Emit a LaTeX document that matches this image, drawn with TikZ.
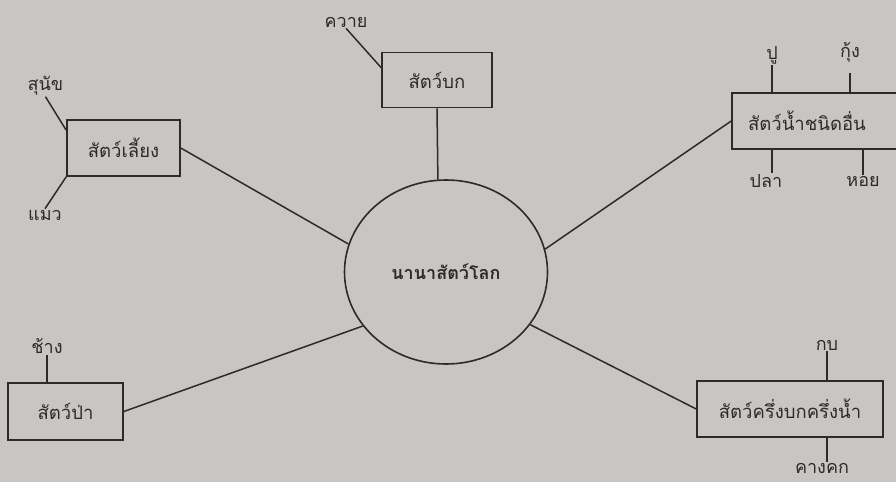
\documentclass[tikz,border=0pt]{standalone}
\usepackage{fontspec}
\newfontfamily\thaifont[Script=Thai]{Loma}
\usepackage{xcolor}
\usepackage{tikz}
\usetikzlibrary{calc,positioning,shapes.geometric}
\definecolor{paper}{RGB}{200,198,195}
\definecolor{ink}{RGB}{45,43,41}

\begin{document}
\begin{tikzpicture}[x=1pt,y=-1pt,
    every node/.style={font=\thaifont\fontsize{18.5}{21}\selectfont,text=ink},
    groupbox/.style={draw=ink,line width=1.6pt,rectangle,inner sep=0pt,minimum height=56pt},
    leaf/.style={inner sep=1pt,font=\thaifont\fontsize{18}{21}\selectfont},
    link/.style={draw=ink,line width=1.5pt}]
  \fill[paper] (0,0) rectangle (896,482);
  \useasboundingbox (0,0) rectangle (896,482);
  \clip (0,0) rectangle (896,482);
  % centre
  \node[draw=ink,line width=1.6pt,ellipse,minimum width=203pt,minimum height=184pt,inner sep=0pt,
    font=\thaifont\bfseries\fontsize{18}{21}\selectfont] (world) at (446,272) {นานาสัตว์โลก};
  % groups
  \node[groupbox,minimum width=113pt] (pet) at (123.5,148) {สัตว์เลี้ยง};
  \node[groupbox,minimum width=110pt,minimum height=55pt] (land) at (437,80) {สัตว์บก};
  \node[groupbox,minimum width=178pt] (water) at (821,121) {สัตว์น้ำชนิดอื่น\kern28pt};
  \node[groupbox,minimum width=115pt,minimum height=57pt] (wild) at (65.5,411.5) {สัตว์ป่า};
  \node[groupbox,minimum width=186pt] (amphib) at (790,409) {สัตว์ครึ่งบกครึ่งน้ำ};
  \foreach \grp/\ang in {pet.east/164,land.south/95,water.west/13,wild.east/213,amphib.west/328}
    \draw[link] (\grp) -- (world.\ang);
  % members
  \node[leaf] (dog) at (45.5,86) {สุนัข};
  \node[leaf] (cat) at (45,215) {แมว};
  \node[leaf] (buffalo) at (346,22) {ควาย};
  \node[leaf] (crab) at (772,55) {ปู};
  \node[leaf] (shrimp) at (850,52) {กุ้ง};
  \node[leaf] (fish) at (766,181) {ปลา};
  \node[leaf] (shell) at (863,181) {หอย};
  \node[leaf] (elephant) at (47,346) {ช้าง};
  \node[leaf] (frog) at (827,345) {กบ};
  \node[leaf] (toad) at (822,468) {คางคก};
  \draw[link] (dog.south) -- ($(pet.north west)+(0,11)$);
  \draw[link] (cat.north) -- (pet.south west);
  \draw[link] (buffalo.south) -- ($(land.north west)+(0,16)$);
  \draw[link] (crab.south) -- (crab.south |- water.north);
  \draw[link] ($(shrimp.south)+(0,10)$) -- (shrimp.south |- water.north);
  \draw[link] (water.south -| crab) -- (fish.north -| crab);
  \draw[link] (water.south -| shell) -- (shell.north);
  \draw[link] (elephant.south) -- (wild.north -| elephant);
  \draw[link] (frog.south) -- (amphib.north -| frog);
  \draw[link] (amphib.south -| frog) -- (toad.north -| frog);
\end{tikzpicture}
\end{document}
